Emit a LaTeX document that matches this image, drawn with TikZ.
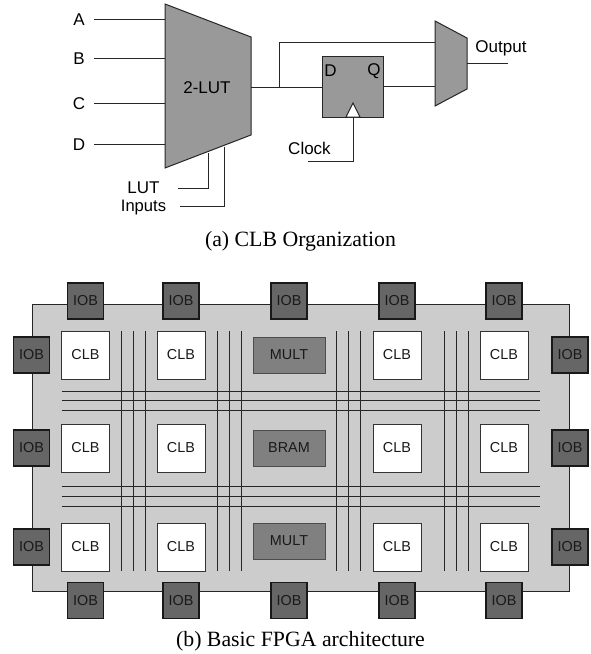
\documentclass[tikz,border=0pt]{standalone}
\usepackage{xcolor}
\usepackage{fontspec}
\setmainfont{Liberation Serif}
\setsansfont{Liberation Sans}
\usetikzlibrary{positioning,calc}
\definecolor{lutgray}{HTML}{999999}
\definecolor{fabric}{HTML}{CCCCCC}
\definecolor{iobgray}{HTML}{666666}
\definecolor{memgray}{HTML}{808080}
\tikzset{
  wire/.style={line width=1pt, black!85},
  part/.style={draw=black!85, line width=1pt, fill=lutgray},
  lbl/.style={font=\sffamily\fontsize{17}{19}\selectfont, inner sep=0pt},
  small/.style={font=\sffamily\fontsize{14.4}{16}\selectfont, text=black!90, inner sep=0pt, outer sep=0pt},
  iob/.style={small, draw=black!90, line width=1.1pt, fill=iobgray, minimum size=36pt},
  clb/.style={small, draw=black!80, line width=1pt, fill=white, minimum size=48pt},
  hardblock/.style={small, draw=black!70, line width=1pt, fill=memgray, minimum width=72pt, minimum height=36pt},
  capt/.style={font=\fontsize{21.8}{24}\selectfont, inner sep=0pt}
}

\begin{document}
\begin{tikzpicture}[x=1pt, y=-1pt]
\useasboundingbox (0,0) rectangle (590,654);
% the CLB
\draw[part] (165,4) -- (251,37) -- (251,135) -- (165,168) -- cycle;
\node[lbl] (lut) at (207,88) {2-LUT};
\foreach \n/\y in {A/19, B/58, C/103, D/144} {
  \node[lbl] (in\n) at (79,\y+0.5) {\n};
  \coordinate (start\n) at (94,\y);
  \coordinate (pin\n) at (165,\y);
  \draw[wire] (start\n) -- (pin\n);}
\node[lbl] (sel1) at (143.5,188) {LUT};
\node[lbl, font=\sffamily\fontsize{16.6}{19}\selectfont] (sel2) at (143.5,208) {Inputs};
\coordinate (pinsel1) at (208,153);
\coordinate (pinsel2) at (224,147);
\draw[wire] ($(sel1.east)+(18.5,0.7)$) -| (pinsel1);
\draw[wire] ($(sel2.east)+(14,-2)$) -| (pinsel2);
% flip-flop and output mux
\node[part, minimum size=61pt, inner sep=0pt, outer sep=0pt] (ff) at (352.5,87) {};
\node[lbl] (ffd) at (330.5,71) {D};
\node[lbl] (ffq) at (374,71) {Q};
\draw[draw=black!85, line width=1pt, fill=white] (353,103) -- (360,117) -- (346,117) -- cycle;
\draw[part] (435,21) -- (467,38) -- (467,89) -- (435,106) -- cycle;
\coordinate (lutout) at (251,87);
\coordinate (branch) at (279,87);
\coordinate (muxa) at (435,42);
\coordinate (muxb) at (435,86);
\coordinate (muxout) at (467,63);
\coordinate (outend) at (508,63);
\coordinate (clkpin) at (353,117);
\coordinate (clkend) at (308,161);
\draw[wire] (lutout) -- (ff.west);
\draw[wire] (branch) |- (muxa);
\draw[wire] (ff.east |- muxb) -- (muxb);
\draw[wire] (muxout) -- (outend);
\draw[wire] (clkend) -| (clkpin);
\node[lbl] (output) at (501,48) {Output};
\node[lbl] (clock) at (309.5,148) {Clock};
\node[capt] (capa) at (300.5,241) {(a) CLB Organization};
% the FPGA
\draw[draw=black!85, line width=1pt, fill=fabric] (32,304) rectangle (569,591);
\foreach \x [count=\i] in {121.3, 133.3, 145.3, 217, 229, 241, 336.7, 348.7, 360.7, 444.7, 456.7, 468.7}
  \draw[wire] (\x,331) -- (\x,571);
\foreach \y in {391, 400, 410, 486.7, 496, 506}
  \draw[wire] (61.5,\y) -- (540,\y);
\foreach \x [count=\i] in {85.5, 181, 289, 397, 504} {
  \node[iob] (iobt\i) at (\x,301) {IOB};
  \node[iob] (iobb\i) at (\x,600.5) {IOB};}
\foreach \y [count=\i] in {355, 448, 547} {
  \node[iob] (iobl\i) at (31.5,\y) {IOB};
  \node[iob] (iobr\i) at (570,\y) {IOB};
  \foreach \x [count=\j] in {85.5, 181, 397, 504}
    \node[clb] (clb\i\j) at (\x,\y) {CLB};}
\node[hardblock] (mult1) at (289,355) {MULT};
\node[hardblock] (bram) at (289,448) {BRAM};
\node[hardblock] (mult2) at (289,541) {MULT};
\node[capt] (capb) at (300.5,641) {(b) Basic FPGA architecture};
\end{tikzpicture}
\end{document}
